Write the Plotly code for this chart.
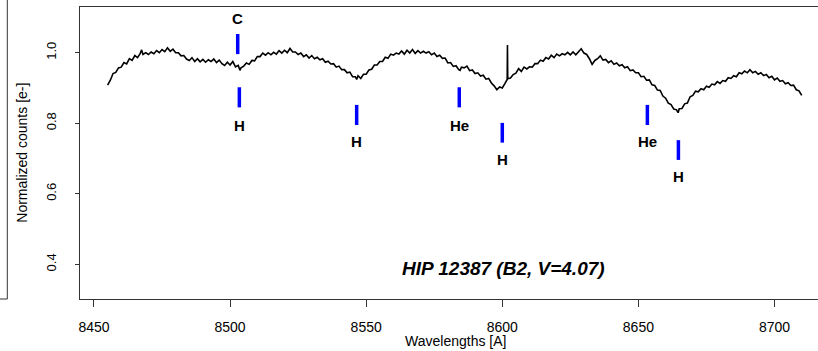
import plotly.graph_objects as go

# ---- data ----
wavelength = [
    8455, 8456, 8457, 8458, 8459, 8460, 8461, 8462, 8463, 8464, 8465, 8466, 8467, 8467.5, 8468, 8469,
    8470, 8471, 8472, 8473, 8474, 8475, 8476, 8477, 8478, 8479, 8480, 8481, 8482, 8483, 8484, 8485,
    8486, 8487, 8488, 8489, 8490, 8491, 8492, 8493, 8494, 8495, 8496, 8497, 8498, 8499, 8500, 8501,
    8502, 8503, 8503.6, 8504, 8505, 8506, 8507, 8508, 8509, 8510, 8511, 8512, 8513, 8514, 8515, 8516,
    8517, 8518, 8519, 8520, 8521, 8522, 8523, 8524, 8525, 8526, 8527, 8528, 8529, 8530, 8531, 8532,
    8533, 8534, 8535, 8536, 8537, 8538, 8539, 8540, 8541, 8542, 8543, 8544, 8545, 8546, 8546.5, 8547,
    8548, 8549, 8550, 8551, 8552, 8553, 8554, 8555, 8556, 8557, 8558, 8559, 8560, 8561, 8562, 8563,
    8564, 8565, 8566, 8567, 8568, 8569, 8570, 8571, 8572, 8573, 8574, 8575, 8576, 8577, 8578, 8579,
    8580, 8581, 8582, 8583, 8584, 8584.5, 8585, 8586, 8587, 8588, 8589, 8590, 8591, 8592, 8593, 8594,
    8595, 8596, 8597, 8598, 8599, 8600, 8601, 8601.8, 8601.9, 8602.0, 8603, 8604, 8605, 8606, 8607, 8608,
    8609, 8610, 8611, 8612, 8613, 8614, 8615, 8616, 8617, 8618, 8619, 8620, 8621, 8622, 8623, 8624,
    8625, 8626, 8627, 8628, 8629, 8630, 8631, 8632, 8633, 8634, 8635, 8636, 8637, 8638, 8639, 8640,
    8641, 8642, 8643, 8644, 8645, 8646, 8647, 8648, 8649, 8650, 8651, 8652, 8653, 8654, 8655, 8656,
    8657, 8658, 8659, 8660, 8661, 8662, 8663, 8664, 8664.6, 8665, 8666, 8667, 8668, 8669, 8670, 8671,
    8672, 8673, 8674, 8675, 8676, 8677, 8678, 8679, 8680, 8681, 8682, 8683, 8684, 8685, 8686, 8687,
    8688, 8689, 8690, 8691, 8692, 8693, 8694, 8695, 8696, 8697, 8698, 8699, 8700, 8701, 8702, 8703,
    8704, 8705, 8706, 8707, 8708, 8709, 8710,
]
flux = [
    0.908, 0.922, 0.941, 0.944, 0.957, 0.959, 0.972, 0.968, 0.983, 0.978, 0.992, 0.986, 0.998, 1.008, 0.995, 1.000,
    0.995, 1.002, 0.997, 1.006, 1.000, 1.009, 1.003, 1.014, 1.004, 1.010, 1.000, 1.000, 0.991, 0.992, 0.982, 0.978,
    0.986, 0.975, 0.983, 0.974, 0.981, 0.973, 0.980, 0.975, 0.982, 0.972, 0.979, 0.969, 0.964, 0.973, 0.965, 0.975,
    0.960, 0.964, 0.950, 0.957, 0.962, 0.971, 0.967, 0.978, 0.977, 0.989, 0.989, 0.999, 0.993, 1.000, 0.994, 1.001,
    0.996, 1.006, 0.999, 1.007, 1.000, 1.012, 1.002, 1.002, 0.995, 0.999, 0.989, 0.994, 0.985, 0.992, 0.983, 0.987,
    0.980, 0.983, 0.973, 0.976, 0.968, 0.969, 0.959, 0.962, 0.952, 0.952, 0.943, 0.945, 0.932, 0.932, 0.924, 0.935,
    0.927, 0.939, 0.939, 0.951, 0.953, 0.965, 0.965, 0.975, 0.975, 0.987, 0.984, 0.996, 0.993, 0.999, 0.996, 1.005,
    0.996, 1.007, 0.999, 1.009, 0.998, 1.006, 0.999, 1.004, 0.999, 1.003, 0.994, 0.999, 0.989, 0.993, 0.984, 0.985,
    0.971, 0.972, 0.961, 0.963, 0.952, 0.950, 0.959, 0.957, 0.962, 0.949, 0.951, 0.941, 0.943, 0.934, 0.936, 0.925,
    0.927, 0.914, 0.906, 0.895, 0.903, 0.900, 0.913, 0.924, 1.022, 0.926, 0.928, 0.938, 0.942, 0.955, 0.947, 0.959,
    0.954, 0.960, 0.959, 0.969, 0.969, 0.979, 0.976, 0.986, 0.982, 0.993, 0.986, 0.996, 0.991, 0.997, 0.994, 1.001,
    0.994, 1.002, 0.994, 1.003, 1.011, 0.999, 0.995, 0.983, 0.967, 0.978, 0.983, 0.991, 0.979, 0.981, 0.972, 0.977,
    0.967, 0.971, 0.963, 0.966, 0.957, 0.960, 0.949, 0.951, 0.943, 0.943, 0.932, 0.933, 0.922, 0.923, 0.909, 0.907,
    0.894, 0.893, 0.877, 0.871, 0.857, 0.853, 0.840, 0.838, 0.830, 0.841, 0.842, 0.855, 0.857, 0.875, 0.879, 0.891,
    0.889, 0.898, 0.895, 0.905, 0.902, 0.911, 0.909, 0.918, 0.913, 0.921, 0.919, 0.929, 0.927, 0.935, 0.932, 0.943,
    0.940, 0.948, 0.943, 0.952, 0.943, 0.947, 0.939, 0.943, 0.935, 0.938, 0.929, 0.933, 0.923, 0.928, 0.919, 0.921,
    0.912, 0.915, 0.907, 0.908, 0.895, 0.892, 0.879,
]

# spectral line identifications
line_names = ["C", "H", "H", "He", "H", "He", "H"]
line_wavelength = [8502.8, 8503.4, 8546.5, 8584.2, 8600.0, 8653.3, 8664.7]
mark_top = [1.053, 0.902, 0.852, 0.902, 0.801, 0.852, 0.752]
mark_bottom = [0.996, 0.845, 0.795, 0.845, 0.745, 0.795, 0.696]
label_y = [1.098, 0.795, 0.748, 0.795, 0.698, 0.748, 0.648]

x_ticks = [8450, 8500, 8550, 8600, 8650, 8700]
y_ticks = [0.4, 0.6, 0.8, 1.0]
title_text = "HIP 12387 (B2, V=4.07)"
title_pos = (8600.3, 0.388)

FONT = "Liberation Sans, Arial, Helvetica, sans-serif"

fig = go.Figure()
fig.add_trace(go.Scatter(x=wavelength, y=flux, mode="lines",
                         line=dict(color="black", width=1.6), hoverinfo="skip"))

seg_x, seg_y = [], []
for w, t, b in zip(line_wavelength, mark_top, mark_bottom):
    seg_x += [w, w, None]
    seg_y += [t, b, None]
fig.add_trace(go.Scatter(x=seg_x, y=seg_y, mode="lines",
                         line=dict(color="#0000ff", width=3.5), hoverinfo="skip"))

for name, w, ly in zip(line_names, line_wavelength, label_y):
    fig.add_annotation(x=w, y=ly, xref="x", yref="y", text=name, showarrow=False,
                       font=dict(family=FONT, size=15, color="black", weight="bold"))

fig.add_annotation(x=title_pos[0], y=title_pos[1], xref="x", yref="y", text=title_text,
                   showarrow=False,
                   font=dict(family=FONT, size=19, color="black", weight="bold", style="italic"))

# axis titles
fig.add_annotation(x=0.5085, y=-0.145, xref="paper", yref="paper", text="Wavelengths [A]",
                   showarrow=False, yanchor="middle",
                   font=dict(family=FONT, size=14, color="black"))
fig.add_annotation(x=-0.079, y=0.5, xref="paper", yref="paper", text="Normalized counts [e-]",
                   showarrow=False, textangle=-90, xanchor="center",
                   font=dict(family=FONT, size=14, color="black"))

# fragment of neighbouring panel box on the left
fig.add_shape(type="line", xref="paper", yref="paper", x0=-0.0985, x1=-0.0985, y0=0.0, y1=1.05,
              line=dict(color="#333333", width=1))
fig.add_shape(type="line", xref="paper", yref="paper", x0=-0.2, x1=-0.0985, y0=0.0, y1=0.0,
              line=dict(color="#333333", width=1))

x_left = 8444.86
px_per_unit = 2.722
plot_w = 738
fig.update_layout(
    width=818, height=351,
    margin=dict(l=80, r=0, t=7, b=52),
    paper_bgcolor="white", plot_bgcolor="white",
    showlegend=False,
    xaxis=dict(range=[x_left, x_left + plot_w / px_per_unit], tickvals=x_ticks,
               ticktext=[str(v) for v in x_ticks],
               showgrid=False, zeroline=False, showline=True, mirror=True,
               linecolor="#333333", linewidth=1, ticks="outside", ticklen=7,
               tickcolor="#333333", tickfont=dict(family=FONT, size=14, color="black"),
               ticklabelstandoff=8),
    yaxis=dict(range=[0.3016, 1.1296], tickvals=y_ticks,
               ticktext=["0.4", "0.6", "0.8", "1.0"],
               showgrid=False, zeroline=False, showline=True, mirror=False,
               linecolor="#333333", linewidth=1, ticks="outside", ticklen=4,
               tickcolor="#333333", tickangle=-90,
               tickfont=dict(family=FONT, size=13, color="black"),
               ticklabelstandoff=14),
)

fig.write_html("out.html")
